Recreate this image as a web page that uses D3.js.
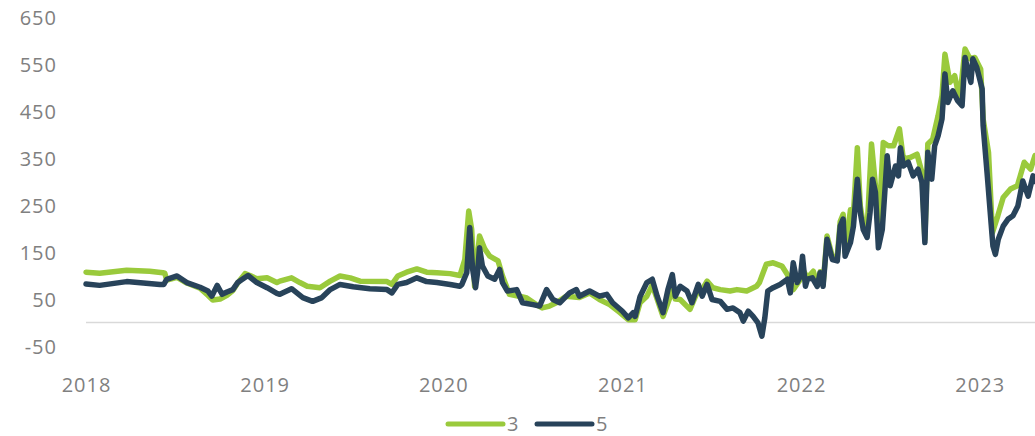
<!DOCTYPE html>
<html>
<head>
<meta charset="utf-8">
<script src="https://cdn.jsdelivr.net/npm/d3@7/dist/d3.min.js"></script>
<style>
  html, body { margin: 0; padding: 0; background: #ffffff; }
  svg { display: block; }
  .lbl { font-family: "Open Sans", sans-serif; font-size: 20px; fill: #808080; letter-spacing: 1px; }
</style>
</head>
<body>
<svg id="chart" width="1035" height="436"></svg>
<script>
// ---- data ----
const seriesNames = ["3", "5"];
const yTickValues = [-50, 50, 150, 250, 350, 450, 550, 650];
const xTickYears = ["2018", "2019", "2020", "2021", "2022", "2023"];

const dates3 = ["2018-01-01","2018-01-29","2018-03-25","2018-05-11","2018-06-07","2018-06-11","2018-06-15","2018-07-06","2018-07-26","2018-08-22","2018-09-07","2018-09-17","2018-10-02","2018-10-16","2018-10-28","2018-11-07","2018-11-22","2018-12-02","2018-12-16","2019-01-06","2019-01-26","2019-02-01","2019-02-25","2019-03-14","2019-03-29","2019-04-24","2019-05-15","2019-06-04","2019-06-25","2019-07-15","2019-09-08","2019-09-18","2019-09-30","2019-10-18","2019-11-08","2019-11-28","2019-12-19","2020-01-15","2020-02-04","2020-02-14","2020-02-22","2020-02-28","2020-03-05","2020-03-15","2020-03-26","2020-04-05","2020-04-22","2020-05-01","2020-05-09","2020-05-15","2020-06-04","2020-06-18","2020-07-09","2020-07-21","2020-08-05","2020-08-19","2020-09-08","2020-10-05","2020-10-26","2020-11-15","2020-12-06","2020-12-27","2021-01-13","2021-01-27","2021-02-06","2021-02-20","2021-03-03","2021-03-13","2021-03-25","2021-04-09","2021-04-13","2021-04-19","2021-04-29","2021-05-19","2021-06-05","2021-06-09","2021-06-23","2021-07-05","2021-07-20","2021-08-09","2021-08-23","2021-09-12","2021-10-02","2021-10-08","2021-10-22","2021-11-05","2021-11-23","2021-12-04","2021-12-16","2021-12-31","2022-01-06","2022-01-14","2022-01-26","2022-02-03","2022-02-09","2022-02-15","2022-02-23","2022-03-06","2022-03-16","2022-03-22","2022-03-28","2022-04-01","2022-04-12","2022-04-18","2022-04-26","2022-05-02","2022-05-08","2022-05-16","2022-05-25","2022-06-02","2022-06-08","2022-06-18","2022-06-28","2022-07-09","2022-07-21","2022-07-29","2022-08-12","2022-08-26","2022-09-05","2022-09-11","2022-09-17","2022-09-27","2022-10-08","2022-10-16","2022-10-22","2022-11-01","2022-11-11","2022-11-21","2022-12-02","2022-12-12","2022-12-22","2023-01-03","2023-01-08","2023-01-19","2023-01-27","2023-02-07","2023-02-18","2023-03-05","2023-03-19","2023-04-02","2023-04-15","2023-04-24"];
const values3 = [107,105,111,109,106,105,90,96,84,73,58,48,50,58,68,84,104,100,93,95,85,88,95,85,77,74,88,99,95,88,87,81,99,107,114,107,106,104,100,134,237,198,77,184,156,141,131,99,77,60,56,53,38,31,35,42,56,53,63,49,38,21,6,6,42,56,80,50,13,56,90,50,49,28,70,63,88,74,70,67,70,67,77,85,124,127,120,102,70,92,110,95,109,80,108,80,184,140,140,215,230,150,240,230,372,248,210,198,380,291,191,383,376,376,412,348,351,358,319,177,380,390,440,483,571,511,525,475,582,561,564,539,433,362,191,227,266,284,291,341,326,355];

const dates5 = ["2018-01-01","2018-01-29","2018-03-25","2018-06-01","2018-06-09","2018-06-15","2018-07-06","2018-07-26","2018-08-22","2018-09-07","2018-09-15","2018-09-26","2018-10-06","2018-10-16","2018-10-28","2018-11-07","2018-11-18","2018-11-28","2018-12-16","2019-01-06","2019-01-26","2019-02-01","2019-02-25","2019-03-20","2019-04-09","2019-04-28","2019-05-15","2019-06-04","2019-07-01","2019-08-04","2019-09-08","2019-09-18","2019-09-30","2019-10-18","2019-11-08","2019-11-28","2019-12-19","2020-01-15","2020-02-04","2020-02-08","2020-02-18","2020-02-24","2020-03-01","2020-03-07","2020-03-11","2020-03-15","2020-03-21","2020-04-01","2020-04-15","2020-04-25","2020-05-01","2020-05-11","2020-05-30","2020-06-11","2020-07-02","2020-07-16","2020-07-30","2020-08-12","2020-08-26","2020-09-15","2020-09-29","2020-10-05","2020-10-26","2020-11-15","2020-11-30","2020-12-12","2021-01-01","2021-01-13","2021-01-23","2021-01-27","2021-02-06","2021-02-20","2021-03-03","2021-03-13","2021-03-25","2021-04-04","2021-04-13","2021-04-19","2021-04-29","2021-05-13","2021-05-23","2021-06-05","2021-06-13","2021-06-23","2021-07-03","2021-07-20","2021-08-03","2021-08-15","2021-08-29","2021-09-05","2021-09-15","2021-09-25","2021-10-05","2021-10-13","2021-10-19","2021-10-25","2021-11-05","2021-11-19","2021-12-04","2021-12-10","2021-12-16","2021-12-24","2021-12-31","2022-01-04","2022-01-10","2022-01-14","2022-01-24","2022-02-03","2022-02-09","2022-02-15","2022-02-23","2022-03-06","2022-03-16","2022-03-22","2022-03-28","2022-04-01","2022-04-12","2022-04-18","2022-04-26","2022-05-02","2022-05-08","2022-05-16","2022-05-22","2022-05-27","2022-06-02","2022-06-08","2022-06-16","2022-06-22","2022-06-26","2022-07-02","2022-07-13","2022-07-19","2022-07-23","2022-07-29","2022-08-08","2022-08-18","2022-08-28","2022-09-05","2022-09-11","2022-09-17","2022-09-25","2022-10-01","2022-10-08","2022-10-16","2022-10-22","2022-10-28","2022-11-07","2022-11-17","2022-11-26","2022-12-02","2022-12-08","2022-12-14","2022-12-18","2022-12-26","2023-01-06","2023-01-08","2023-01-16","2023-01-22","2023-01-28","2023-02-02","2023-02-08","2023-02-18","2023-02-28","2023-03-10","2023-03-20","2023-03-30","2023-04-10","2023-04-20","2023-04-24"];
const values5 = [82,79,87,81,81,92,99,85,75,67,56,79,60,65,70,85,93,100,85,74,62,60,72,53,45,53,70,81,76,72,70,63,81,85,95,87,85,81,77,81,106,202,113,74,106,159,120,99,92,113,85,67,70,42,38,35,70,49,42,63,70,56,67,56,60,42,24,10,21,13,55,85,92,56,21,70,102,56,77,67,42,81,56,81,49,45,28,31,21,3,24,13,-1,-29,10,67,74,81,92,63,127,85,99,141,77,92,95,77,106,77,177,134,131,205,220,141,170,205,305,234,198,181,234,305,277,159,198,291,355,291,333,312,372,333,341,312,326,298,170,362,305,376,397,433,529,468,493,472,461,564,536,511,561,543,497,419,319,241,163,145,177,205,220,227,248,301,269,312,300];

const colors = ["#9aca3c", "#28435a"];

// ---- chart ----
const parse = d3.timeParse("%Y-%m-%d");
const svg = d3.select("#chart");

const x = d3.scaleTime()
  .domain([parse("2018-01-01"), parse("2023-04-24")])
  .range([86, 1035]);
const y = d3.scaleLinear().domain([-50, 650]).range([346, 17]);

// zero line
svg.append("line")
  .attr("x1", x.range()[0]).attr("x2", x.range()[1])
  .attr("y1", y(0)).attr("y2", y(0))
  .attr("stroke", "#d9d9d9").attr("stroke-width", 1.5);

// y axis labels
const yAxis = svg.append("g")
  .attr("transform", "translate(57,0)")
  .call(d3.axisLeft(y).tickValues(yTickValues).tickSize(0).tickPadding(0).tickFormat(d => d < 0 ? "-" + Math.abs(d) : d));
yAxis.select(".domain").remove();
yAxis.selectAll("text").attr("class", "lbl").attr("dy", "0.36em").attr("fill", null);
yAxis.attr("font-family", null).attr("font-size", null);

// x axis labels
const xAxis = svg.append("g")
  .attr("transform", "translate(0,385)")
  .call(d3.axisBottom(x).tickValues(xTickYears.map(s => parse(s + "-01-01"))).tickSize(0).tickPadding(0).tickFormat(d3.timeFormat("%Y")));
xAxis.select(".domain").remove();
xAxis.selectAll("text").attr("class", "lbl").attr("y", 0).attr("dy", "0.36em").attr("fill", null);
xAxis.attr("font-family", null).attr("font-size", null);

// lines
const line = d3.line()
  .x(d => x(d[0]))
  .y(d => y(d[1]))
  .curve(d3.curveLinear);

const data3 = dates3.map((d, i) => [parse(d), values3[i]]);
const data5 = dates5.map((d, i) => [parse(d), values5[i]]);

[data3, data5].forEach((data, i) => {
  svg.append("path")
    .datum(data)
    .attr("fill", "none")
    .attr("stroke", colors[i])
    .attr("stroke-width", 5.5)
    .attr("stroke-linejoin", "round")
    .attr("stroke-linecap", "round")
    .attr("d", line);
});

// legend
const legend = svg.append("g").attr("transform", "translate(448,424)");
const legendX = [0, 89];
seriesNames.forEach((name, i) => {
  const g = legend.append("g").attr("transform", `translate(${legendX[i]},0)`);
  g.append("line")
    .attr("x1", 0).attr("x2", 55).attr("y1", 0).attr("y2", 0)
    .attr("stroke", colors[i]).attr("stroke-width", 5).attr("stroke-linecap", "round");
  g.append("text").attr("class", "lbl")
    .attr("x", 59).attr("y", 0).attr("dy", "0.36em").text(name);
});
</script>
</body>
</html>
